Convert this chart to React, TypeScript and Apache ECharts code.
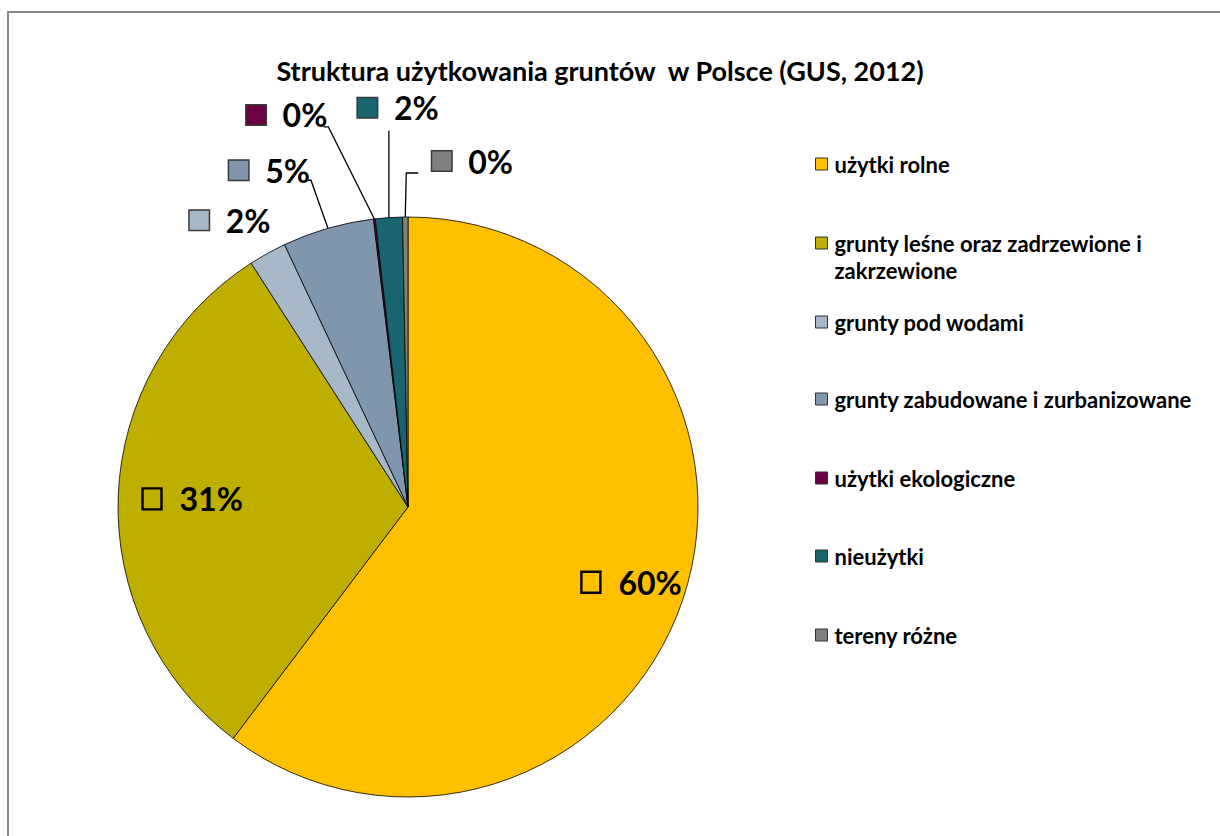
import React, { useEffect, useRef } from "react";
import * as echarts from "echarts";

const TITLE = "Struktura użytkowania gruntów  w Polsce (GUS, 2012)";
const categories = [
  "użytki rolne",
  "grunty leśne oraz zadrzewione i zakrzewione",
  "grunty pod wodami",
  "grunty zabudowane i zurbanizowane",
  "użytki ekologiczne",
  "nieużytki",
  "tereny różne",
];
const legendLabels = [
  "użytki rolne",
  "\ngrunty leśne oraz zadrzewione i\nzakrzewione",
  "grunty pod wodami",
  "grunty zabudowane i zurbanizowane",
  "użytki ekologiczne",
  "nieużytki",
  "tereny różne",
];
const values = [60.3, 30.6, 2.1, 5.1, 0.1, 1.5, 0.3];
const colors = ["#FFC000", "#BDAE00", "#A7B8C8", "#7F96AC", "#6B0042", "#18646F", "#808080"];

// layout settings (positions relative to the library-computed slice edge)
const CENTER = [408, 507];
const RADIUS = 290;
const FONT = "Lato, 'Open Sans', sans-serif";
const insideFactor: Record<number, number> = { 0: 1.6, 1: 1.45 };
const outsideLayout: Record<number, any> = {
  2: { lx: 3, ly: -33, align: "right", line: null },
  3: { lx: -18, ly: -58, align: "right", line: [[-17, -48], [-20, -48]] },
  4: { lx: -47, ly: -104, align: "right", line: [[-46, -92], [-51, -92]] },
  5: { lx: -31, ly: -110, align: "left", line: [[0, -87], [0, -87]] },
  6: { lx: 27, ly: -56, align: "left", line: [[1, -44], [13, -44]] },
};
const legendCenters = [164, 243, 322, 399, 478, 556, 635];

export default function App() {
  const ref = useRef<HTMLDivElement>(null);
  useEffect(() => {
    const chart = echarts.init(ref.current!, null, { renderer: "svg" });
    const data = categories.map((name, i) => {
      const inside = i < 2;
      return {
        name,
        value: values[i],
        itemStyle: { color: colors[i] },
        label: {
          position: inside ? "inside" : "outside",
          formatter: (p: any) => `{box| }{v|${Math.round(p.percent)}%}`,
          rich: {
            box: inside
              ? { width: 19, height: 21, borderColor: "#000", borderWidth: 1.2, backgroundColor: "transparent" }
              : { width: 19, height: 19, borderColor: "#3a3a3a", borderWidth: 1.5, backgroundColor: colors[i] },
            v: {
              fontFamily: FONT,
              fontWeight: "bold",
              fontSize: 32,
              color: "#000",
              padding: [0, 0, 0, inside ? 18 : 17],
            },
          },
        },
        labelLine: {
          show: !inside,
          lineStyle: { color: "#000", width: 1.3, opacity: i === 2 ? 0 : 1 },
        },
      };
    });

    const legends = legendLabels.map((lab, i) => {
      const two = lab.indexOf("\n") >= 0;
      return {
        data: [{ name: categories[i], icon: "rect" }],
        orient: "vertical",
        left: 815,
        top: two ? legendCenters[i] - 40.5 : legendCenters[i] - 13,
        padding: 0,
        itemWidth: 12,
        itemHeight: 12,
        selectedMode: false,
        itemStyle: { borderColor: "#333", borderWidth: 1 },
        formatter: () => lab,
        textStyle: {
          fontFamily: FONT,
          fontWeight: "bold",
          fontSize: 22,
          color: "#000",
          lineHeight: two ? 27 : 26,
          padding: [0, 0, 0, 2],
        },
      };
    });

    chart.setOption({
      animation: false,
      backgroundColor: "#fff",
      title: {
        text: TITLE,
        left: 600,
        textAlign: "center",
        top: 57,
        padding: 0,
        textStyle: { fontFamily: FONT, fontWeight: "bold", fontSize: 27, color: "#000" },
      },
      legend: legends,
      graphic: [
        {
          type: "rect",
          shape: { x: 8, y: 12, width: 1240, height: 860 },
          style: { fill: "none", stroke: "#868686", lineWidth: 2 },
          silent: true,
        },
      ],
      series: [
        {
          type: "pie",
          center: CENTER,
          radius: RADIUS,
          startAngle: 90,
          clockwise: true,
          avoidLabelOverlap: false,
          minShowLabelAngle: 0,
          itemStyle: { borderColor: "#000", borderWidth: 0.8 },
          emphasis: { disabled: true },
          data,
          labelLayout: (params: any) => {
            const i = params.dataIndex;
            const r = params.labelRect;
            if (i in insideFactor) {
              const cx = r.x + r.width / 2;
              const cy = r.y + r.height / 2;
              const f = insideFactor[i];
              return {
                x: CENTER[0] + (cx - CENTER[0]) * f,
                y: CENTER[1] + (cy - CENTER[1]) * f,
                align: "center",
                verticalAlign: "middle",
              };
            }
            const cfg = outsideLayout[i];
            const pts = params.labelLinePoints;
            if (!cfg || !pts || !pts[0]) return {};
            const e = pts[0];
            const out: any = {
              x: e[0] + cfg.lx,
              y: e[1] + cfg.ly,
              align: cfg.align,
              verticalAlign: "middle",
            };
            if (cfg.line) {
              out.labelLinePoints = [
                [e[0], e[1]],
                [e[0] + cfg.line[0][0], e[1] + cfg.line[0][1]],
                [e[0] + cfg.line[1][0], e[1] + cfg.line[1][1]],
              ];
            } else {
              out.labelLinePoints = [[e[0], e[1]], [e[0], e[1]], [e[0], e[1]]];
            }
            return out;
          },
        },
      ],
    });
    return () => chart.dispose();
  }, []);
  return (
    <div
      ref={ref}
      style={{ position: "fixed", left: 0, top: 0, width: 1220, height: 836 }}
    />
  );
}
